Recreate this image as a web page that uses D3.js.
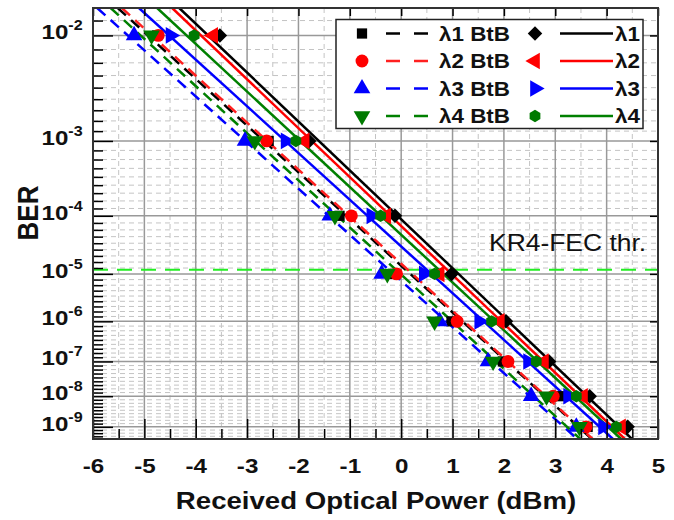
<!DOCTYPE html>
<html>
<head>
<meta charset="utf-8">
<script src="https://cdn.jsdelivr.net/npm/d3@7"></script>
<style>
  body { margin: 0; background: #fff; }
  svg { display: block; font-family: "Liberation Sans", Arial, sans-serif; }
</style>
</head>
<body>
<div id="app"></div>
<script>
// BER = 10^-n, one measured point per decade
const berExponents = [2, 3, 4, 5, 6, 7, 8, 9];
const xTickValues = [-6, -5, -4, -3, -2, -1, 0, 1, 2, 3, 4, 5];
const xMinorValues = [-5.5, -4.5, -3.5, -2.5, -1.5, -0.5, 0.5, 1.5, 2.5, 3.5, 4.5];
const fecThreshold = 1.2e-5;

// received optical power (dBm) at each BER decade
const l1BtB = [-4.75, -2.58, -1.2, -0.16, 0.98, 1.98, 3.09, 3.63];
const l2BtB = [-4.73, -2.62, -0.97, -0.09, 1.09, 2.08, 2.96, 3.6];
const l3BtB = [-5.2, -3.04, -1.39, -0.38, 0.75, 1.69, 2.53, 3.41];
const l4BtB = [-4.86, -2.85, -1.29, -0.27, 0.65, 1.79, 2.83, 3.47];
const l1 = [-3.53, -1.79, -0.12, 0.98, 2.04, 2.88, 3.67, 4.41];
const l2 = [-3.66, -1.88, -0.29, 0.75, 1.92, 2.78, 3.54, 4.28];
const l3 = [-4.49, -2.25, -0.58, 0.44, 1.52, 2.47, 3.25, 3.93];
const l4 = [-4.03, -2.05, -0.4, 0.65, 1.76, 2.63, 3.41, 4.19];

const seriesNames = ["λ1 BtB", "λ2 BtB", "λ3 BtB", "λ4 BtB", "λ1", "λ2", "λ3", "λ4"];
const seriesValues = [l1BtB, l2BtB, l3BtB, l4BtB, l1, l2, l3, l4];

// styles
const lineColors = ["#000", "#ff2020", "#0000ff", "#008000", "#000", "#ff0000", "#0000ff", "#008000"];
const markColors = ["#000", "#ff0000", "#0000ff", "#007a00", "#000", "#ff0000", "#0000ff", "#007a00"];
const dashed = [true, true, true, true, false, false, false, false];

const hexagon = {
  draw(ctx, size) {
    const r = Math.sqrt(size / 2.598);
    for (let i = 0; i < 6; i++) {
      const a = Math.PI / 6 + i * Math.PI / 3;
      if (i === 0) ctx.moveTo(r * Math.cos(a), r * Math.sin(a));
      else ctx.lineTo(r * Math.cos(a), r * Math.sin(a));
    }
    ctx.closePath();
  }
};
const markShapes = [
  { type: d3.symbolSquare, size: 105, rot: 0 },
  { type: d3.symbolCircle, size: 130, rot: 0 },
  { type: d3.symbolTriangle, size: 120, rot: 0 },
  { type: d3.symbolTriangle, size: 120, rot: 180 },
  { type: d3.symbolSquare, size: 105, rot: 45 },
  { type: d3.symbolTriangle, size: 120, rot: -90 },
  { type: d3.symbolTriangle, size: 120, rot: 90 },
  { type: hexagon, size: 100, rot: 0 }
];

const W = 674, H = 520;
const plot = { left: 93, right: 658, top: 8, bottom: 439 };
const sx = 1.15; // text in the source is slightly stretched horizontally

const svg = d3.select("#app").append("svg").attr("width", W).attr("height", H);

const x = d3.scaleLinear().domain([-6, 5]).range([plot.left, plot.right]);
// y works on n = -log10(BER), on a log scale
const y = d3.scaleLog().domain([1.8, 9.43]).range([plot.top, plot.bottom]);

const yMinor = [];
for (let k = 1; k <= 9; k++) {
  for (let j = 1; j <= 8; j++) {
    const n = k + j / 9;
    if (n > 1.8 && n < 9.43) yMinor.push(n);
  }
}

//grid
const grid = svg.append("g");
grid.selectAll(".vmin").data(xMinorValues).join("line")
  .attr("x1", d => x(d)).attr("x2", d => x(d))
  .attr("y1", plot.top).attr("y2", plot.bottom)
  .attr("stroke", "#c4c4c4").attr("stroke-width", 1).attr("stroke-dasharray", "5,4");
grid.selectAll(".hmin").data(yMinor).join("line")
  .attr("x1", plot.left).attr("x2", plot.right)
  .attr("y1", d => y(d)).attr("y2", d => y(d))
  .attr("stroke", "#c4c4c4").attr("stroke-width", 1).attr("stroke-dasharray", "5,4");
grid.selectAll(".vmaj").data(xTickValues.slice(1, -1)).join("line")
  .attr("x1", d => x(d)).attr("x2", d => x(d))
  .attr("y1", plot.top).attr("y2", plot.bottom)
  .attr("stroke", "#999").attr("stroke-width", 1.5);
grid.selectAll(".hmaj").data(berExponents).join("line")
  .attr("x1", plot.left).attr("x2", plot.right)
  .attr("y1", d => y(d)).attr("y2", d => y(d))
  .attr("stroke", "#999").attr("stroke-width", 1.5);

//clip
svg.append("clipPath").attr("id", "clip").append("rect")
  .attr("x", plot.left).attr("y", plot.top)
  .attr("width", plot.right - plot.left).attr("height", plot.bottom - plot.top);

//FEC threshold
svg.append("line")
  .attr("x1", plot.left).attr("x2", plot.right)
  .attr("y1", y(-Math.log10(fecThreshold))).attr("y2", y(-Math.log10(fecThreshold)))
  .attr("stroke", "#22ee22").attr("stroke-width", 2.2).attr("stroke-dasharray", "15,9");
svg.append("text")
  .attr("transform", `translate(489,${y(-Math.log10(fecThreshold)) - 19}) scale(${sx},1)`)
  .attr("font-size", 23).attr("fill", "#111")
  .text("KR4-FEC thr.");

// linear fit of power vs log10(-log10 BER)
function fit(xs) {
  const t = berExponents.map(n => Math.log10(n));
  const mt = d3.mean(t), mx = d3.mean(xs);
  const b = d3.sum(t, (v, i) => (v - mt) * (xs[i] - mx)) / d3.sum(t, v => (v - mt) * (v - mt));
  const a = mx - b * mt;
  return n => a + b * Math.log10(n);
}

const line = d3.line().x(d => x(d[0])).y(d => y(d[1]));
const lines = svg.append("g").attr("clip-path", "url(#clip)");
seriesValues.forEach((vals, i) => {
  const f = fit(vals);
  const ends = y.domain().map(n => [f(n), n]);
  lines.append("path")
    .attr("d", line(ends))
    .attr("fill", "none")
    .attr("stroke", lineColors[i])
    .attr("stroke-width", 2.5)
    .attr("stroke-dasharray", dashed[i] ? "11,7" : null);
});

const marks = svg.append("g");
seriesValues.forEach((vals, i) => {
  const s = markShapes[i];
  marks.selectAll(null).data(vals).join("path")
    .attr("d", d3.symbol().type(s.type).size(s.size))
    .attr("transform", (d, k) => `translate(${x(d)},${y(berExponents[k])}) rotate(${s.rot})`)
    .attr("fill", markColors[i]);
});

//axes
function styleAxis(g) {
  g.select(".domain").remove();
  g.selectAll(".tick line").attr("stroke", "#000").attr("stroke-width", 1.5);
}
svg.append("g").attr("transform", `translate(0,${plot.bottom})`)
  .call(d3.axisBottom(x).tickValues(xMinorValues).tickSize(-10).tickFormat(""))
  .call(styleAxis);
svg.append("g").attr("transform", `translate(0,${plot.bottom})`)
  .call(d3.axisBottom(x).tickValues(xTickValues).tickSize(-20).tickSizeOuter(0)
    .tickPadding(19).tickFormat(d => String(d)))
  .call(styleAxis)
  .call(g => g.selectAll("text")
    .attr("transform", `scale(${sx},1)`)
    .attr("font-size", 21).attr("font-weight", "bold").attr("fill", "#111")
    .attr("font-family", "Liberation Sans, Arial, sans-serif"));
svg.append("g").attr("transform", `translate(0,${plot.top})`)
  .call(d3.axisTop(x).tickValues(xTickValues).tickSize(-8).tickFormat(""))
  .call(styleAxis);

svg.append("g").attr("transform", `translate(${plot.left},0)`)
  .call(d3.axisLeft(y).tickValues(yMinor).tickSize(-10).tickFormat(""))
  .call(styleAxis);
svg.append("g").attr("transform", `translate(${plot.left},0)`)
  .call(d3.axisLeft(y).tickValues(berExponents).tickSize(-20).tickSizeOuter(0)
    .tickPadding(9).tickFormat(() => "10"))
  .call(styleAxis)
  .call(g => g.selectAll("text")
    .attr("transform", `scale(${sx},1)`)
    .attr("dy", "0.16em")
    .attr("font-size", 21).attr("font-weight", "bold").attr("fill", "#111")
    .attr("font-family", "Liberation Sans, Arial, sans-serif")
    .append("tspan").attr("dy", -9).attr("font-size", 14).text(d => "-" + d));
svg.append("g").attr("transform", `translate(${plot.right},0)`)
  .call(d3.axisRight(y).tickValues(berExponents).tickSize(-8).tickFormat(""))
  .call(styleAxis);

//frame
svg.append("rect")
  .attr("x", plot.left).attr("y", plot.top)
  .attr("width", plot.right - plot.left).attr("height", plot.bottom - plot.top)
  .attr("fill", "none").attr("stroke", "#333").attr("stroke-width", 2);

//axis titles
svg.append("text")
  .attr("transform", `translate(376,509) scale(${sx},1)`)
  .attr("text-anchor", "middle").attr("font-size", 24).attr("font-weight", "bold").attr("fill", "#111")
  .text("Received Optical Power (dBm)");
svg.append("text")
  .attr("transform", `translate(38,213) rotate(-90) scale(1,${sx})`)
  .attr("text-anchor", "middle").attr("font-size", 26).attr("font-weight", "bold").attr("fill", "#111")
  .text("BER");

//legend
const legend = svg.append("g");
legend.append("rect")
  .attr("x", 336).attr("y", 19.5).attr("width", 307).attr("height", 109)
  .attr("fill", "#fff").attr("stroke", "#222").attr("stroke-width", 1.5);
seriesNames.forEach((name, i) => {
  const col = i < 4 ? 0 : 1;
  const row = i % 4;
  const cy = 33.5 + row * 27.5;
  const mx = col === 0 ? 362 : 535;
  const lx0 = col === 0 ? 386 : 560;
  const lx1 = col === 0 ? 428 : 613;
  const tx = col === 0 ? 439 : 615;
  const s = markShapes[i];
  legend.append("path")
    .attr("d", d3.symbol().type(s.type).size(s.size)())
    .attr("transform", `translate(${mx},${cy}) rotate(${s.rot})`)
    .attr("fill", markColors[i]);
  legend.append("line")
    .attr("x1", lx0).attr("x2", lx1).attr("y1", cy).attr("y2", cy)
    .attr("stroke", lineColors[i]).attr("stroke-width", 2.5)
    .attr("stroke-dasharray", dashed[i] ? "14,14" : null);
  legend.append("text")
    .attr("transform", `translate(${tx},${cy + 7}) scale(${sx},1)`)
    .attr("font-size", 19.5).attr("font-weight", "bold").attr("fill", "#111")
    .text(name);
});
</script>
</body>
</html>
